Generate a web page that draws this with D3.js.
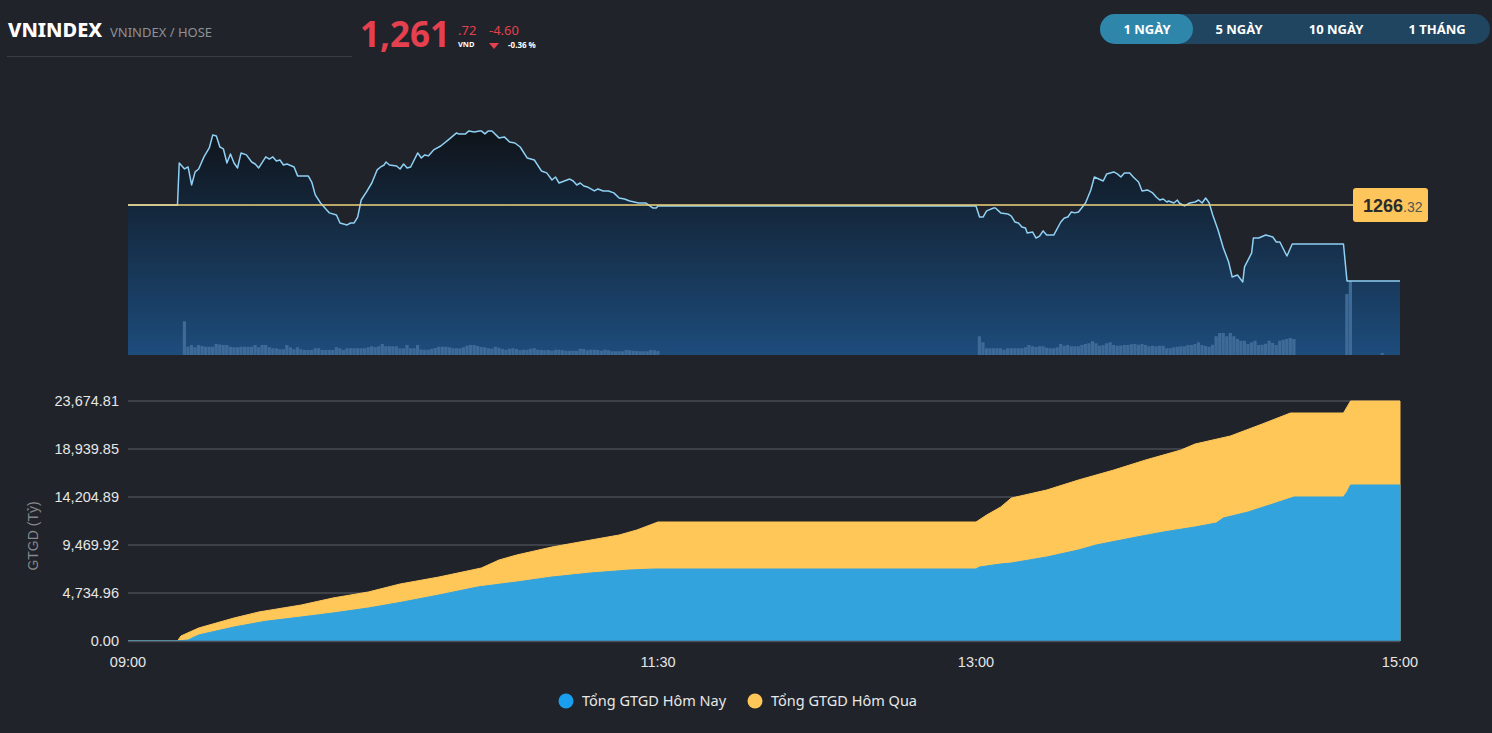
<!DOCTYPE html>
<html><head><meta charset="utf-8">
<script src="https://cdn.jsdelivr.net/npm/d3@7"></script>
<style>
html,body{margin:0;padding:0;background:#202329;overflow:hidden;}
svg{display:block;}
</style></head><body>
<svg id="c" width="1492" height="733"></svg>
<script>
// ---------- DATA ----------
const refPrice = 1266.32;
const lastPrice = 1261.72;
const changeAbs = -4.60;
const changePct = -0.36;
const timeTicks = ["09:00", "11:30", "13:00", "15:00"];
const rangeButtons = ["1 NGÀY", "5 NGÀY", "10 NGÀY", "1 THÁNG"];
const legendLabels = ["Tổng GTGD Hôm Nay", "Tổng GTGD Hôm Qua"];
const valueMax = 23674.81;
const valueTickCount = 5;

const priceTimes = ["09:00:00","09:14:00","09:14:30","09:16:00","09:17:00","09:18:00","09:19:00","09:20:00","09:21:30","09:23:00","09:24:00","09:25:00","09:26:00","09:27:00","09:28:00","09:29:00","09:30:00","09:31:00","09:32:00","09:33:30","09:35:00","09:36:00","09:37:00","09:39:00","09:40:00","09:41:00","09:42:00","09:43:00","09:44:00","09:45:00","09:47:00","09:48:00","09:51:00","09:52:00","09:53:00","09:54:30","09:57:00","09:59:00","10:00:00","10:02:00","10:03:00","10:04:00","10:05:00","10:06:00","10:07:30","10:09:00","10:10:30","10:11:30","10:12:30","10:13:00","10:14:00","10:16:00","10:17:00","10:18:00","10:19:00","10:20:00","10:22:00","10:23:00","10:24:00","10:25:00","10:26:30","10:28:30","10:31:00","10:33:00","10:33:30","10:35:30","10:36:30","10:38:00","10:39:30","10:40:00","10:41:00","10:42:00","10:43:00","10:45:00","10:46:30","10:48:00","10:49:30","10:51:00","10:53:00","10:55:00","10:57:00","10:58:30","11:00:00","11:01:00","11:02:00","11:05:00","11:06:00","11:07:00","11:08:00","11:09:00","11:10:00","11:12:00","11:13:00","11:14:30","11:16:00","11:17:30","11:19:00","11:20:30","11:22:00","11:24:30","11:26:30","11:28:30","11:29:30","11:30:00","13:00:00","13:01:00","13:02:00","13:03:00","13:05:00","13:05:30","13:07:00","13:09:00","13:10:00","13:11:00","13:12:00","13:13:00","13:14:00","13:14:30","13:16:00","13:17:00","13:18:00","13:19:00","13:20:00","13:22:00","13:24:00","13:25:00","13:26:00","13:27:00","13:28:00","13:29:00","13:31:00","13:32:30","13:33:30","13:36:00","13:37:00","13:39:00","13:40:00","13:41:00","13:42:00","13:43:30","13:44:30","13:46:00","13:47:00","13:48:30","13:50:00","13:51:00","13:52:00","13:53:00","13:54:00","13:54:30","13:56:00","13:57:00","13:57:30","13:59:00","14:00:30","14:02:00","14:03:00","14:04:00","14:05:00","14:06:00","14:07:00","14:08:30","14:10:00","14:11:30","14:12:30","14:14:00","14:15:30","14:16:00","14:18:00","14:18:30","14:20:00","14:22:00","14:24:00","14:25:00","14:26:00","14:28:00","14:29:30","14:44:00","14:45:00","15:00:00"];
const priceValues = [1266.32,1266.32,1268.86,1268.50,1268.62,1267.53,1268.32,1268.50,1269.23,1269.77,1270.56,1270.50,1269.83,1269.71,1268.86,1269.41,1268.86,1268.56,1269.47,1269.35,1268.92,1268.80,1268.56,1269.23,1269.10,1269.23,1268.98,1269.04,1268.74,1268.80,1268.62,1268.08,1268.08,1267.71,1266.93,1266.44,1265.84,1265.71,1265.23,1265.11,1265.23,1265.23,1265.59,1266.62,1267.11,1267.65,1268.44,1268.62,1268.74,1268.92,1268.74,1268.68,1268.50,1268.80,1268.56,1268.62,1269.47,1269.16,1269.35,1269.29,1269.65,1269.89,1270.32,1270.68,1270.62,1270.62,1270.80,1270.74,1270.80,1270.80,1270.62,1270.80,1270.80,1270.38,1270.44,1270.13,1270.07,1269.83,1269.16,1269.04,1268.38,1268.26,1267.83,1268.01,1267.65,1267.89,1267.77,1267.53,1267.65,1267.47,1267.41,1267.17,1267.29,1267.17,1267.17,1267.05,1266.74,1266.68,1266.56,1266.44,1266.44,1266.14,1266.14,1266.26,1266.26,1265.59,1265.59,1265.96,1266.14,1266.14,1265.84,1265.78,1265.65,1265.29,1265.23,1264.99,1264.93,1264.63,1264.69,1264.32,1264.44,1264.75,1264.50,1264.50,1265.29,1265.53,1265.59,1265.90,1265.84,1265.90,1266.44,1267.23,1268.01,1267.77,1268.20,1268.32,1268.20,1268.01,1268.26,1268.26,1268.01,1267.71,1267.17,1267.23,1267.05,1266.80,1266.62,1266.68,1266.50,1266.56,1266.44,1266.62,1266.44,1266.26,1266.44,1266.50,1266.62,1266.44,1266.74,1266.44,1265.71,1264.81,1263.72,1262.87,1261.96,1262.08,1261.66,1262.57,1263.41,1264.32,1264.32,1264.50,1264.38,1264.08,1264.08,1263.23,1263.96,1263.96,1261.72,1261.72];

// per-minute matched volume (million shares)
const volMorningStart = "09:15";
const volMorning = [13.5,3.3,4.0,3.1,4.0,3.6,3.3,3.3,3.3,4.4,
 4.2,4.0,4.0,3.3,3.1,3.1,3.3,3.3,3.3,3.3,
 4.0,3.1,4.0,4.0,3.1,2.7,2.7,2.3,2.3,4.0,
 3.1,2.3,3.1,2.3,2.0,2.0,2.0,2.7,2.7,2.0,
 2.0,2.0,2.0,3.1,2.7,2.0,2.7,2.7,2.7,2.7,
 2.7,2.7,3.1,3.5,3.1,3.5,4.4,3.5,3.5,3.5,
 3.5,2.7,2.7,4.0,2.7,2.7,4.0,2.2,2.1,2.1,
 2.5,2.8,3.3,3.3,3.3,3.1,2.7,2.7,2.7,3.1,
 3.7,4.0,4.0,3.6,3.2,3.1,2.7,2.5,3.3,2.9,
 2.4,2.1,2.5,2.7,2.4,1.9,2.1,2.1,2.5,2.7,
 2.1,2.0,1.9,2.0,1.7,2.1,2.1,1.9,1.7,1.7,
 1.7,1.7,2.5,2.4,1.9,2.1,2.1,2.0,1.7,2.1,
 1.9,1.5,1.5,1.5,1.5,2.0,1.9,1.7,1.6,1.5,
 1.5,1.5,2.0,1.9,1.6];
const volAfternoonStart = "13:00";
const volAfternoon = [7.5,5.1,2.7,2.7,2.7,2.7,2.7,2.1,2.7,2.7,
 2.7,2.7,2.7,3.1,4.0,3.5,3.2,3.5,3.5,2.9,
 2.7,2.7,3.1,4.4,3.7,4.0,3.5,3.5,3.5,4.0,
 4.4,4.7,5.5,4.7,3.7,4.0,4.7,5.1,4.0,3.7,
 3.8,4.0,4.0,4.3,4.4,4.1,4.4,4.0,3.5,3.7,
 3.5,3.7,3.7,2.7,2.7,3.1,3.3,3.5,3.5,4.0,
 4.0,4.4,5.1,4.0,3.6,3.3,4.1,7.5,8.8,8.8,
 7.5,8.8,7.5,6.4,5.7,5.7,4.4,5.1,5.7,4.0,
 4.1,4.5,5.7,4.8,4.0,5.7,6.1,6.4,6.8,6.4];
const volCloseTimes = ["14:44", "14:45", "14:54"];
const volClose = [24.4, 29.6, 0.8];

// cumulative traded value (tỷ VND)
const todayTimes = ["09:00","09:14","09:17","09:20","09:30","09:39","09:49","09:58","10:08","10:17","10:28","10:39","10:50","11:00","11:11","11:22","11:29","11:30","13:00","13:01","13:07","13:10","13:20","13:29","13:34","13:44","13:53","14:02","14:08","14:10","14:17","14:24","14:30","14:44","14:45","14:46","15:00"];
const todayValues = [0,0,99,592,1381,1950,2367,2762,3255,3800,4538,5327,5820,6313,6708,7004,7102,7102,7102,7300,7600,7694,8286,8977,9470,10160,10752,11246,11640,12133,12725,13514,14205,14205,14698,15389,15389];
const yesterdayTimes = ["09:00","09:14","09:15","09:20","09:30","09:37","09:49","09:58","10:08","10:17","10:28","10:40","10:45","10:50","11:00","11:11","11:19","11:24","11:30","13:00","13:03","13:07","13:10","13:20","13:29","13:39","13:48","13:58","14:02","14:12","14:21","14:29","14:44","14:46","15:00"];
const yesterdayValues = [0,0,500,1282,2269,2861,3551,4242,4834,5623,6313,7201,7990,8483,9273,9963,10456,10950,11739,11739,12429,13218,14106,14895,15882,16868,17855,18841,19433,20222,21406,22491,22491,23674.81,23674.81];

// ---------- DRAW ----------
const svg = d3.select('#c');
const p3 = d3.timeParse('%H:%M:%S');
const t = s => p3(s.length === 5 ? s + ':00' : s);
const red = '#e5404f';
const numFont = '"Liberation Sans", Arial, sans-serif';
const uiFont = '"Noto Sans", "Open Sans", sans-serif';

const x = d3.scaleTime().domain([t('09:00'), t('15:00')]).range([128, 1400]);

// header
const hdr = svg.append('g');
hdr.append('text').attr('x', 8).attr('y', 37).text('VNINDEX')
  .attr('font-family', uiFont).attr('font-weight', 800).attr('font-size', 20).attr('fill', '#ffffff');
hdr.append('text').attr('x', 110).attr('y', 37).text('VNINDEX / HOSE')
  .attr('font-family', uiFont).attr('font-size', 13).attr('fill', '#8e9196');
hdr.append('line').attr('x1', 7).attr('x2', 352).attr('y1', 56.5).attr('y2', 56.5).attr('stroke', '#3a3d43');
const intPart = Math.floor(lastPrice);
hdr.append('text').attr('x', 360).attr('y', 47).text(d3.format(',')(intPart))
  .attr('font-family', uiFont).attr('font-weight', 700).attr('font-size', 35).attr('fill', red);
hdr.append('text').attr('x', 458).attr('y', 35).text('.' + lastPrice.toFixed(2).split('.')[1])
  .attr('font-family', uiFont).attr('font-size', 13).attr('fill', red);
hdr.append('text').attr('x', 458).attr('y', 47).text('VND')
  .attr('font-family', uiFont).attr('font-weight', 700).attr('font-size', 7.5).attr('fill', '#ffffff');
hdr.append('text').attr('x', 489).attr('y', 35).text(changeAbs.toFixed(2))
  .attr('font-family', uiFont).attr('font-size', 13).attr('fill', red);
hdr.append('path').attr('d', 'M489,43 L499,43 L494,49 Z').attr('fill', red);
hdr.append('text').attr('x', 508).attr('y', 47.5).text(changePct.toFixed(2) + ' %')
  .attr('font-family', uiFont).attr('font-weight', 700).attr('font-size', 8).attr('fill', '#ffffff');

// range buttons
const btnCenters = [1147, 1239, 1336, 1437];
svg.append('rect').attr('x', 1100).attr('y', 14).attr('width', 390).attr('height', 30).attr('rx', 15).attr('fill', '#1f4560');
svg.append('rect').attr('x', 1100).attr('y', 14).attr('width', 93).attr('height', 30).attr('rx', 15).attr('fill', '#2f86ab');
svg.selectAll('text.btn').data(rangeButtons).join('text').attr('class', 'btn')
  .attr('x', (d, i) => btnCenters[i]).attr('y', 34).attr('text-anchor', 'middle').text(d => d)
  .attr('font-family', uiFont).attr('font-weight', 700).attr('font-size', 13).attr('fill', '#ffffff');

// ---------- price chart ----------
const yP = d3.scaleLinear().domain([1257.24, 1271.16]).range([355, 125]);
const yV = d3.scaleLinear().domain([0, 92]).range([355, 125]);
const priceData = priceTimes.map((s, i) => ({ t: t(s), v: priceValues[i] }));

const defs = svg.append('defs');
const g = defs.append('linearGradient').attr('id', 'pg').attr('gradientUnits', 'userSpaceOnUse')
  .attr('x1', 0).attr('y1', 125).attr('x2', 0).attr('y2', 355);
g.append('stop').attr('offset', 0).attr('stop-color', '#0f1217');
g.append('stop').attr('offset', 1).attr('stop-color', '#1d4c7c');

svg.append('path').datum(priceData)
  .attr('d', d3.area().x(d => x(d.t)).y0(355).y1(d => yP(d.v)))
  .attr('fill', 'url(#pg)');

const volData = [];
volMorning.forEach((v, i) => volData.push({ t: d3.timeMinute.offset(t(volMorningStart), i), v }));
volAfternoon.forEach((v, i) => volData.push({ t: d3.timeMinute.offset(t(volAfternoonStart), i), v }));
volClose.forEach((v, i) => volData.push({ t: t(volCloseTimes[i]), v }));
const barW = x(t('09:01')) - x(t('09:00')) - 0.3;
svg.append('g').selectAll('rect').data(volData).join('rect')
  .attr('x', d => x(d.t) + 1.8).attr('width', barW)
  .attr('y', d => yV(d.v)).attr('height', d => 355 - yV(d.v))
  .attr('fill', '#3d6a97');

svg.append('path').datum(priceData)
  .attr('d', d3.line().x(d => x(d.t)).y(d => yP(d.v)))
  .attr('fill', 'none').attr('stroke', '#8fd0f5').attr('stroke-width', 1.5).attr('stroke-linejoin', 'round');

const yRef = yP(refPrice);
svg.append('line').attr('x1', 128).attr('x2', 1354).attr('y1', yRef).attr('y2', yRef)
  .attr('stroke', '#efd47e').attr('stroke-width', 1.5);
svg.append('rect').attr('x', 1353).attr('y', yRef - 17).attr('width', 75).attr('height', 34).attr('rx', 3).attr('fill', '#fec65a');
const refTxt = svg.append('text').attr('x', 1363).attr('y', yRef + 7).attr('font-family', numFont);
refTxt.append('tspan').text(String(Math.floor(refPrice))).attr('font-weight', 700).attr('font-size', 18).attr('fill', '#2b2b2b');
refTxt.append('tspan').text('.' + refPrice.toFixed(2).split('.')[1]).attr('font-size', 14).attr('fill', '#555555');

// ---------- cumulative value chart ----------
const yC = d3.scaleLinear().domain([0, valueMax]).range([641, 401]);
const cTicks = d3.range(valueTickCount + 1).map(i => valueMax * i / valueTickCount);

svg.append('g').selectAll('line').data(cTicks.slice(1)).join('line')
  .attr('x1', 128).attr('x2', 1400).attr('y1', d => yC(d)).attr('y2', d => yC(d))
  .attr('stroke', '#4a4d53').attr('stroke-width', 1.5);

const yData = yesterdayTimes.map((s, i) => ({ t: t(s), v: yesterdayValues[i] }));
const tData = todayTimes.map((s, i) => ({ t: t(s), v: todayValues[i] }));
const areaC = d3.area().x(d => x(d.t)).y0(yC(0)).y1(d => yC(d.v));
svg.append('path').datum(yData).attr('d', areaC).attr('fill', '#ffc658').attr('stroke', '#ffc658').attr('stroke-width', 1);
svg.append('path').datum(tData).attr('d', areaC).attr('fill', '#33a3dd').attr('stroke', '#33a3dd').attr('stroke-width', 1);

svg.append('line').attr('x1', 128).attr('x2', 1400).attr('y1', yC(0) + 0.5).attr('y2', yC(0) + 0.5)
  .attr('stroke', '#4a4d53').attr('stroke-width', 1.5);

svg.append('g').selectAll('text').data(cTicks).join('text')
  .attr('x', 119).attr('y', d => yC(d) + 5).attr('text-anchor', 'end')
  .text(d => d3.format(',.2f')(d))
  .attr('font-family', numFont).attr('font-size', 14.5).attr('fill', '#e6e6e6');

svg.append('g').selectAll('text').data(timeTicks).join('text')
  .attr('x', d => x(t(d))).attr('y', 667).attr('text-anchor', 'middle').text(d => d)
  .attr('font-family', numFont).attr('font-size', 14.5).attr('fill', '#e6e6e6');

svg.append('text').attr('transform', 'translate(38,536) rotate(-90)').attr('text-anchor', 'middle')
  .text('GTGD (Tỷ)').attr('font-family', numFont).attr('font-size', 14).attr('fill', '#85888d');

// legend
const legColors = ['#1a9ff0', '#ffc658'];
const legX = [566, 755];
legendLabels.forEach((l, i) => {
  svg.append('circle').attr('cx', legX[i]).attr('cy', 701).attr('r', 7.5).attr('fill', legColors[i]);
  svg.append('text').attr('x', legX[i] + 16).attr('y', 706).text(l)
    .attr('font-family', uiFont).attr('font-size', 14.5).attr('fill', '#e8e8e8');
});
</script>
</body></html>
